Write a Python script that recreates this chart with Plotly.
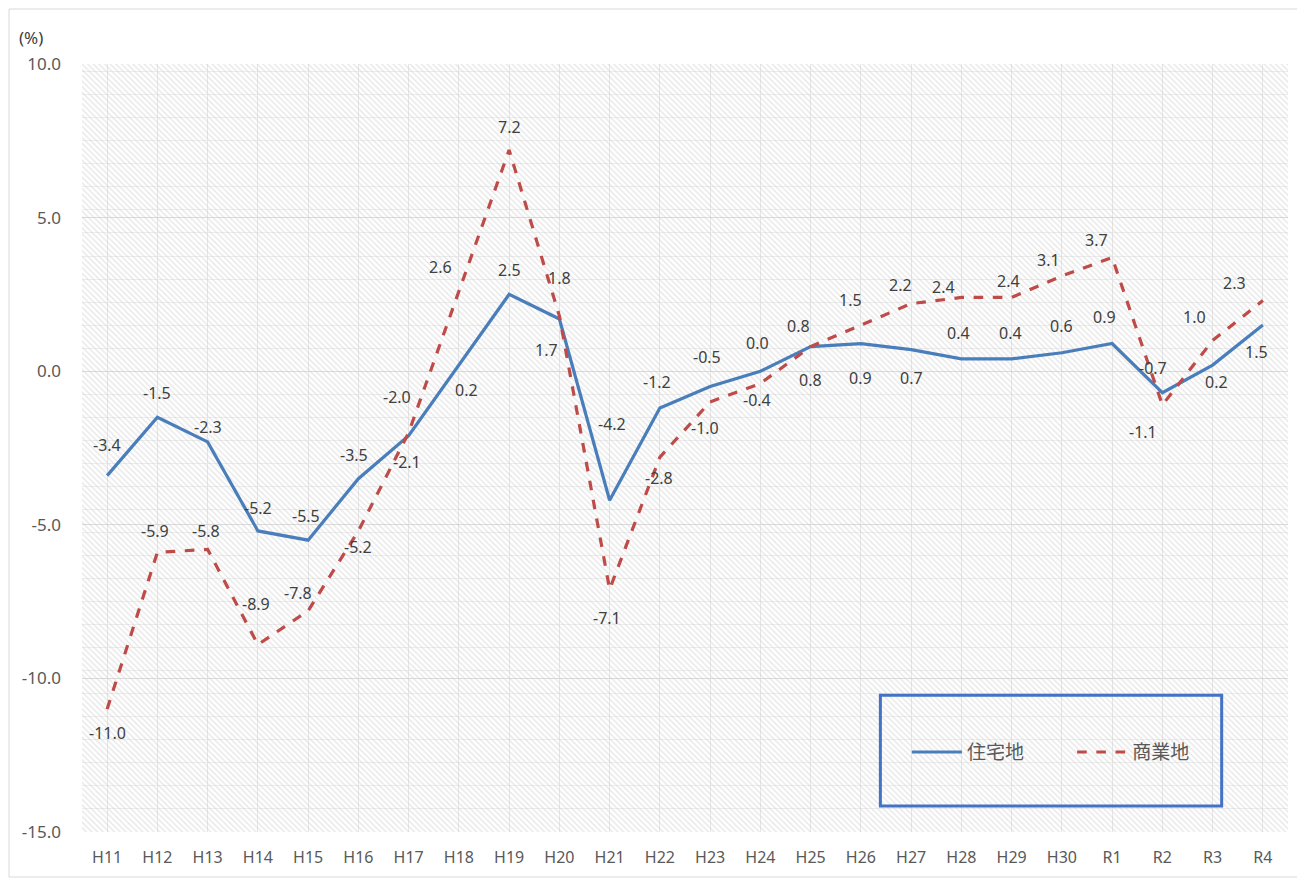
import plotly.graph_objects as go

categories = ["H11", "H12", "H13", "H14", "H15", "H16", "H17", "H18", "H19", "H20",
              "H21", "H22", "H23", "H24", "H25", "H26", "H27", "H28", "H29", "H30",
              "R1", "R2", "R3", "R4"]
residential = [-3.4, -1.5, -2.3, -5.2, -5.5, -3.5, -2.1, 0.2, 2.5, 1.7,
               -4.2, -1.2, -0.5, 0.0, 0.8, 0.9, 0.7, 0.4, 0.4, 0.6,
               0.9, -0.7, 0.2, 1.5]
commercial = [-11.0, -5.9, -5.8, -8.9, -7.8, -5.2, -2.0, 2.6, 7.2, 1.8,
              -7.1, -2.8, -1.0, -0.4, 0.8, 1.5, 2.2, 2.4, 2.4, 3.1,
              3.7, -1.1, 1.0, 2.3]
y_ticks = [-15, -10, -5, 0, 5, 10]
y_min, y_max = -15, 10

# label offsets in pixels (style only): (dx, dy) with dy positive = downward
res_dx = [0, 0, 0, 0, -2, -4, -2, 8, 0, -13, 2, -3, -3, -3, 0, 0, 0, -3, -1, 0, -8, -9, 4, -6]
res_dy = [-31, -24, -15, -23, -24, -24, 26, 25, -24, 31, -76, -26, -30, -28, 33, 34, 28, -26, -26, -27, -27, -25, 17, 27]
com_dx = [0, -2, -2, -2, -10, 0, -12, -18, 0, 0, -3, -1, -5, -3, -12, -10, -11, -18, -3, -13, -16, -19, -18, -28]
com_dy = [24, -21, -18, -41, -18, 16, -36, -24, -23, -38, 29, 21, 26, 17, -21, -25, -19, -10, -16, -16, -18, 27, -23, -18]

font_family = "Noto Sans, Noto Sans CJK JP, sans-serif"
label_font = dict(size=16, color="#404040", family=font_family)

fig = go.Figure()

# hatched plot-area background
fig.add_trace(go.Bar(
    x=categories, y=[y_max - y_min] * len(categories), base=[y_min] * len(categories),
    width=1, marker=dict(color="rgba(255,255,255,0)", line=dict(width=0),
                         pattern=dict(shape="\\", fgcolor="#cfcfcf", bgcolor="rgba(0,0,0,0)",
                                      size=4, solidity=0.35)),
    hoverinfo="skip", showlegend=False))

fig.add_trace(go.Scatter(
    x=categories, y=residential, name="住宅地", mode="lines", legend="legend",
    line=dict(color="#4A7EBB", width=3.2)))
fig.add_trace(go.Scatter(
    x=categories, y=commercial, name="商業地", mode="lines", legend="legend2",
    line=dict(color="#BE4B48", width=3.2, dash="dash")))

annotations = []
for i, c in enumerate(categories):
    annotations.append(dict(x=c, y=residential[i], text=f"{residential[i]:.1f}", showarrow=False,
                            xshift=res_dx[i], yshift=-res_dy[i], font=label_font))
    annotations.append(dict(x=c, y=commercial[i], text=f"{commercial[i]:.1f}", showarrow=False,
                            xshift=com_dx[i], yshift=-com_dy[i], font=label_font))
annotations.append(dict(text="(%)", xref="paper", yref="paper", x=-0.0423, y=1.035,
                        xanchor="center", yanchor="middle",
                        showarrow=False, font=dict(size=17, color="#404040", family=font_family)))

legend_style = dict(orientation="h", y=0.104, xanchor="left", yanchor="middle",
                    bgcolor="rgba(0,0,0,0)", font=dict(size=19, color="#595959", family=font_family),
                    itemwidth=50)

fig.update_layout(
    width=1297, height=873,
    margin=dict(l=74, r=17, t=56, b=49),
    paper_bgcolor="white", plot_bgcolor="white",
    font=dict(family=font_family, size=15, color="#595959"),
    bargap=0,
    legend=dict(x=0.684, **legend_style),
    legend2=dict(x=0.821, **legend_style),
    xaxis=dict(showgrid=True, gridcolor="#e6e6e6", gridwidth=1, ticks="",
               tickfont=dict(size=16, color="#595959"), showline=False, zeroline=False,
               automargin=False, range=[-0.5, len(categories) - 0.5], ticklabelstandoff=14),
    yaxis=dict(range=[y_min, y_max], tickvals=y_ticks,
               ticktext=[f"{v:.1f}" for v in y_ticks],
               showgrid=True, gridcolor="#dadada", gridwidth=1, zeroline=False,
               minor=dict(dtick=0.75, showgrid=True, gridcolor="#ededed", gridwidth=1),
               tickfont=dict(size=17, color="#595959"), ticklabelstandoff=20, automargin=False),
    shapes=[
        dict(type="rect", xref="paper", yref="paper", x0=0.662, x1=0.945, y0=0.034, y1=0.178,
             line=dict(color="#4472C4", width=3), fillcolor="rgba(0,0,0,0)"),
        dict(type="rect", xref="paper", yref="paper", x0=-0.0605, x1=1.0108, y0=-0.0586, y1=1.0716,
             line=dict(color="#d9d9d9", width=1), fillcolor="rgba(0,0,0,0)"),
    ],
    annotations=annotations,
)

fig.write_html("out.html")
